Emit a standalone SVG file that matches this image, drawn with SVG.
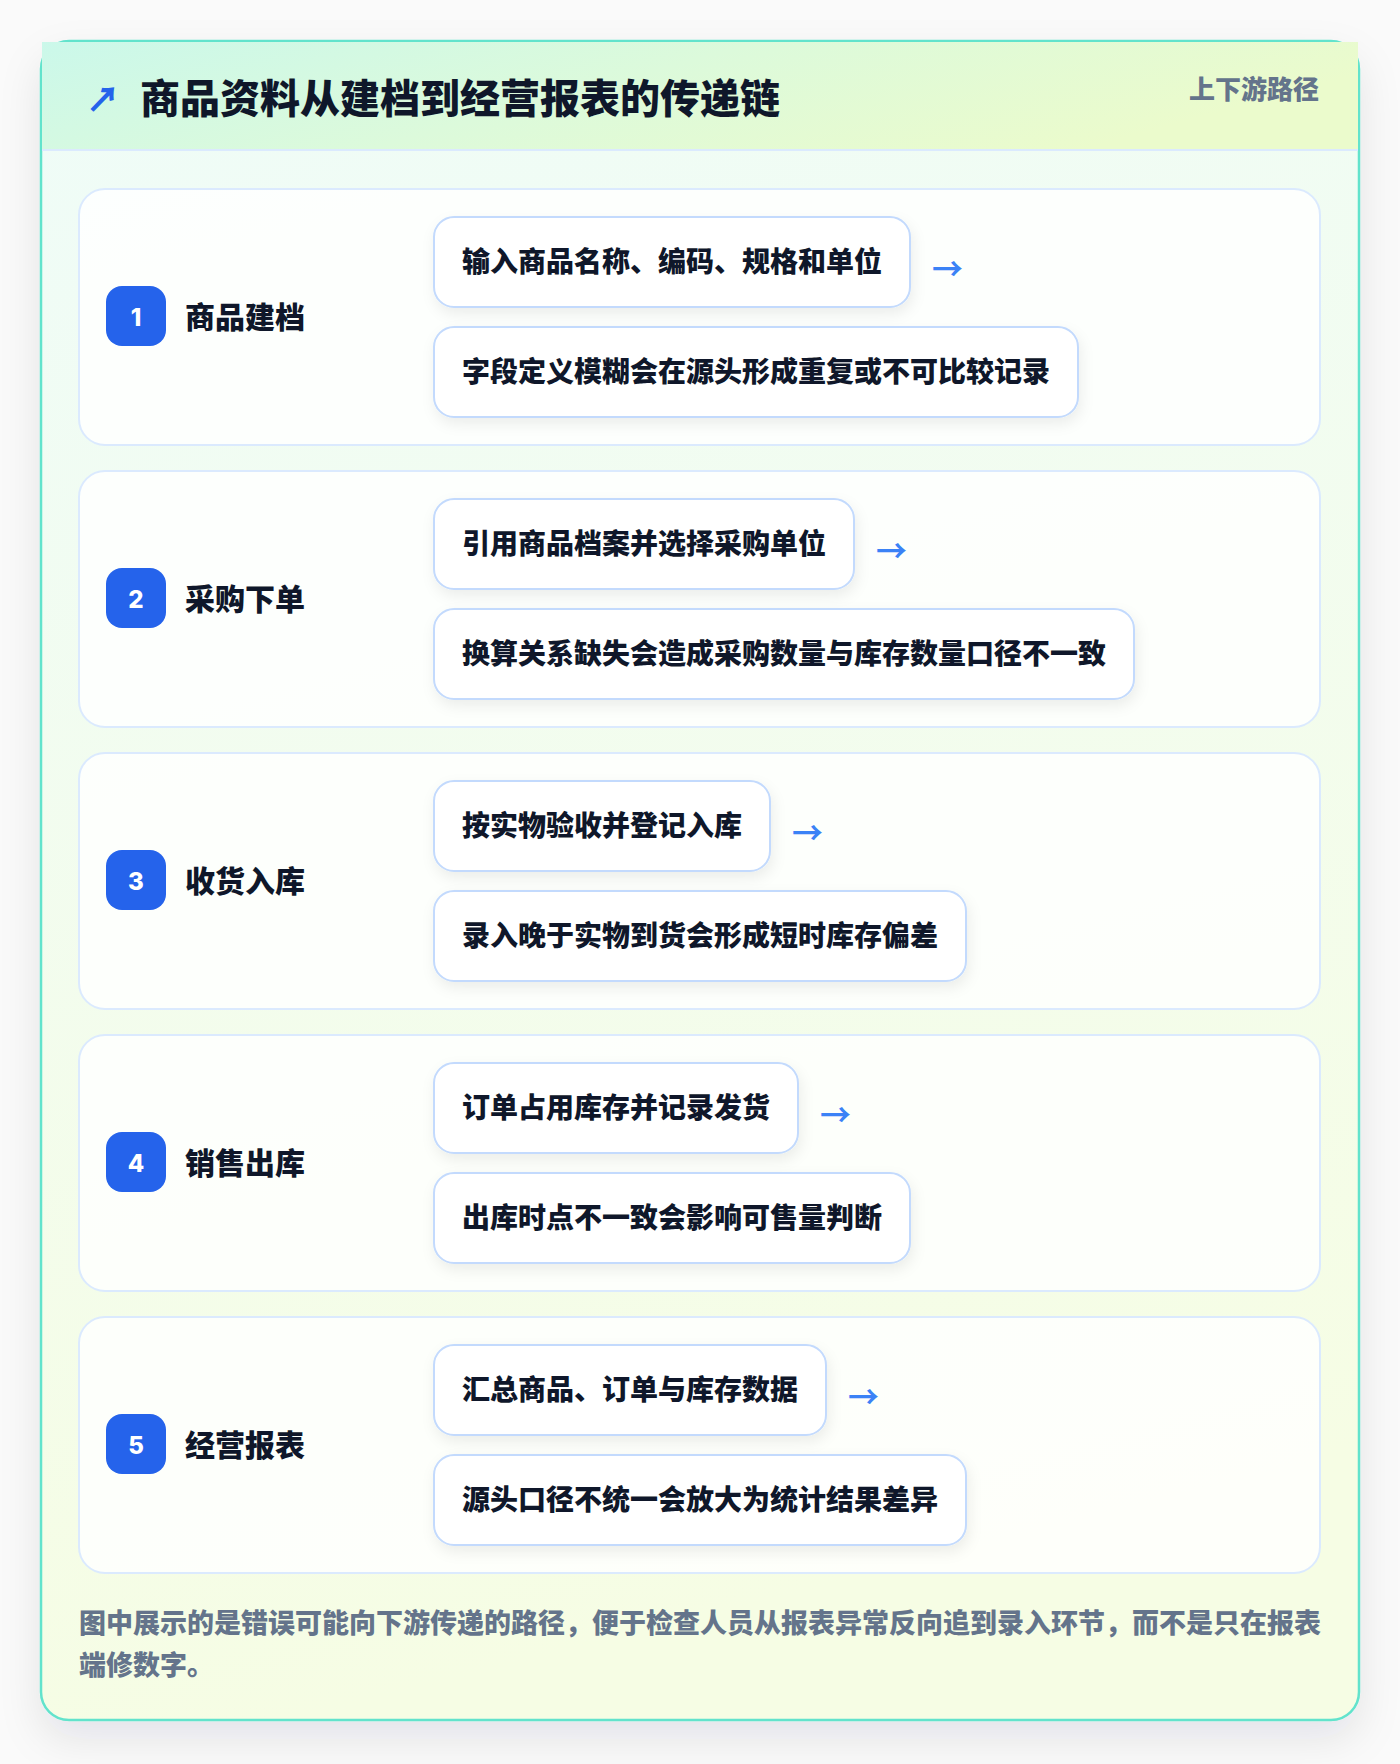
<svg xmlns="http://www.w3.org/2000/svg" width="1400" height="1764" viewBox="0 0 1400 1764">
<defs>
<linearGradient id="hdr" x1="0" y1="0" x2="1" y2="0.3">
<stop offset="0" stop-color="#cbf8ea"/>
<stop offset="0.5" stop-color="#dcfadb"/>
<stop offset="1" stop-color="#ebfbcc"/>
</linearGradient>
<linearGradient id="body" x1="0" y1="0" x2="0.2" y2="1">
<stop offset="0" stop-color="#effcf8"/>
<stop offset="1" stop-color="#f6fde4"/>
</linearGradient>
<filter id="outerShadow" x="-10%" y="-10%" width="120%" height="125%">
<feDropShadow dx="0" dy="18" stdDeviation="20" flood-color="#0f172a" flood-opacity="0.09"/>
</filter>
<filter id="boxShadow" x="-10%" y="-20%" width="120%" height="160%">
<feDropShadow dx="2" dy="6" stdDeviation="7" flood-color="#0f172a" flood-opacity="0.07"/>
</filter>
<style>
.cjk{font-family:"Noto Sans CJK SC","Noto Sans",sans-serif;}
.title{font-size:40px;font-weight:900;fill:#0f172a;}
.tag{font-size:26px;font-weight:800;fill:#64748b;}
.card{fill:#ffffff;fill-opacity:0.82;stroke:#dbeafe;stroke-width:2;}
.badge{fill:#2563eb;}
.num{font-family:Inter,"Noto Sans",sans-serif;font-size:24px;font-weight:800;fill:#ffffff;}
.label{font-size:30px;font-weight:900;fill:#0f172a;}
.box{fill:#ffffff;stroke:#c3dafd;stroke-width:2;}
.item{font-size:28px;font-weight:900;fill:#0f172a;}
.arrow{font-family:"Noto Sans CJK SC",sans-serif;font-size:31px;font-weight:700;fill:#3b82f6;}
.foot{font-size:27px;font-weight:900;fill:#64748b;}
</style>
</defs>
<rect x="0" y="0" width="1400" height="1764" fill="#fafafa"/>
<g id="frame">
<rect x="41" y="41" width="1318" height="1679" rx="28" fill="url(#body)" stroke="#62e3cc" stroke-width="2.5" filter="url(#outerShadow)"/>
</g>
<g id="header">
<rect x="42" y="42" width="1316" height="108" fill="url(#hdr)"/>
<line x1="42" y1="150" x2="1358" y2="150" stroke="#dbeafe" stroke-width="2"/>
<text class="cjk" x="86" y="97" dominant-baseline="central" font-size="34" font-weight="900" fill="#2563eb">↗</text>
<text class="cjk title" x="140" y="96" dominant-baseline="central">商品资料从建档到经营报表的传递链</text>
<text class="cjk tag" x="1319" y="87" text-anchor="end" dominant-baseline="central">上下游路径</text>
</g>
<g id="step-1">
<rect class="card" x="79" y="189" width="1241" height="256" rx="26"/>
<rect class="badge" x="106" y="286" width="60" height="60" rx="16"/>
<text class="num" x="136" y="317" text-anchor="middle" dominant-baseline="central">1</text>
<text class="cjk label" x="185" y="315" dominant-baseline="central">商品建档</text>
<rect class="box" x="434" y="217" width="476" height="90" rx="20" filter="url(#boxShadow)"/>
<text class="cjk item" x="462" y="259.5" dominant-baseline="central">输入商品名称、编码、规格和单位</text>
<rect class="box" x="434" y="327" width="644" height="90" rx="20" filter="url(#boxShadow)"/>
<text class="cjk item" x="462" y="369.5" dominant-baseline="central">字段定义模糊会在源头形成重复或不可比较记录</text>
</g>
<g id="step-2">
<rect class="card" x="79" y="471" width="1241" height="256" rx="26"/>
<rect class="badge" x="106" y="568" width="60" height="60" rx="16"/>
<text class="num" x="136" y="599" text-anchor="middle" dominant-baseline="central">2</text>
<text class="cjk label" x="185" y="597" dominant-baseline="central">采购下单</text>
<rect class="box" x="434" y="499" width="420" height="90" rx="20" filter="url(#boxShadow)"/>
<text class="cjk item" x="462" y="541.5" dominant-baseline="central">引用商品档案并选择采购单位</text>
<rect class="box" x="434" y="609" width="700" height="90" rx="20" filter="url(#boxShadow)"/>
<text class="cjk item" x="462" y="651.5" dominant-baseline="central">换算关系缺失会造成采购数量与库存数量口径不一致</text>
</g>
<g id="step-3">
<rect class="card" x="79" y="753" width="1241" height="256" rx="26"/>
<rect class="badge" x="106" y="850" width="60" height="60" rx="16"/>
<text class="num" x="136" y="881" text-anchor="middle" dominant-baseline="central">3</text>
<text class="cjk label" x="185" y="879" dominant-baseline="central">收货入库</text>
<rect class="box" x="434" y="781" width="336" height="90" rx="20" filter="url(#boxShadow)"/>
<text class="cjk item" x="462" y="823.5" dominant-baseline="central">按实物验收并登记入库</text>
<rect class="box" x="434" y="891" width="532" height="90" rx="20" filter="url(#boxShadow)"/>
<text class="cjk item" x="462" y="933.5" dominant-baseline="central">录入晚于实物到货会形成短时库存偏差</text>
</g>
<g id="step-4">
<rect class="card" x="79" y="1035" width="1241" height="256" rx="26"/>
<rect class="badge" x="106" y="1132" width="60" height="60" rx="16"/>
<text class="num" x="136" y="1163" text-anchor="middle" dominant-baseline="central">4</text>
<text class="cjk label" x="185" y="1161" dominant-baseline="central">销售出库</text>
<rect class="box" x="434" y="1063" width="364" height="90" rx="20" filter="url(#boxShadow)"/>
<text class="cjk item" x="462" y="1105.5" dominant-baseline="central">订单占用库存并记录发货</text>
<rect class="box" x="434" y="1173" width="476" height="90" rx="20" filter="url(#boxShadow)"/>
<text class="cjk item" x="462" y="1215.5" dominant-baseline="central">出库时点不一致会影响可售量判断</text>
</g>
<g id="step-5">
<rect class="card" x="79" y="1317" width="1241" height="256" rx="26"/>
<rect class="badge" x="106" y="1414" width="60" height="60" rx="16"/>
<text class="num" x="136" y="1445" text-anchor="middle" dominant-baseline="central">5</text>
<text class="cjk label" x="185" y="1443" dominant-baseline="central">经营报表</text>
<rect class="box" x="434" y="1345" width="392" height="90" rx="20" filter="url(#boxShadow)"/>
<text class="cjk item" x="462" y="1387.5" dominant-baseline="central">汇总商品、订单与库存数据</text>
<rect class="box" x="434" y="1455" width="532" height="90" rx="20" filter="url(#boxShadow)"/>
<text class="cjk item" x="462" y="1497.5" dominant-baseline="central">源头口径不统一会放大为统计结果差异</text>
</g>
<g id="connectors">
<text class="arrow" x="932" y="266" dominant-baseline="central">→</text>
<text class="arrow" x="876" y="548" dominant-baseline="central">→</text>
<text class="arrow" x="792" y="830" dominant-baseline="central">→</text>
<text class="arrow" x="820" y="1112" dominant-baseline="central">→</text>
<text class="arrow" x="848" y="1394" dominant-baseline="central">→</text>
</g>
<g id="footer">
<text class="cjk foot" x="79" y="1621.5" dominant-baseline="central">图中展示的是错误可能向下游传递的路径，便于检查人员从报表异常反向追到录入环节，而不是只在报表</text>
<text class="cjk foot" x="79" y="1663.5" dominant-baseline="central">端修数字。</text>
</g>
</svg>
